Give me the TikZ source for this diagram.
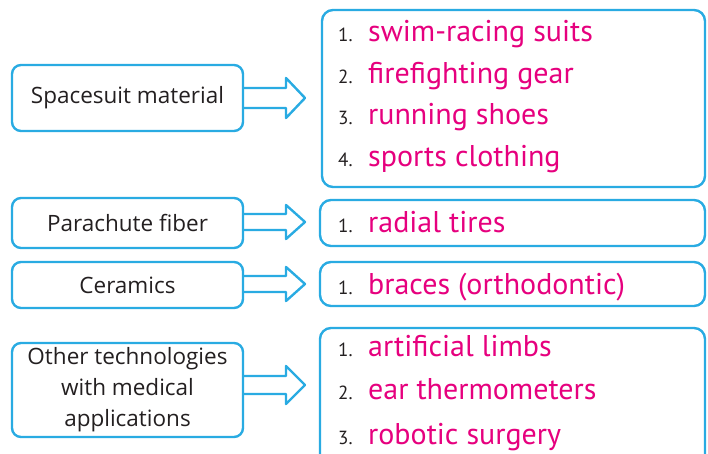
\documentclass[tikz,border=0pt]{standalone}
\usepackage{fontspec}
\setmainfont{PT Sans}
\newfontfamily\labelfont{Open Sans}
\usetikzlibrary{calc}
\definecolor{framecyan}{RGB}{41,171,226}
\definecolor{itempink}{RGB}{230,0,126}
\definecolor{inkgray}{RGB}{35,31,32}
\tikzset{
  srcbox/.style={draw=framecyan, line width=2.4pt, rounded corners=9pt,
    minimum width=231pt, inner sep=0pt, align=center,
    font=\labelfont\fontsize{22.5}{31}\selectfont, text=inkgray},
  listbox/.style={draw=framecyan, line width=2.4pt, rounded corners=11pt},
  num/.style={anchor=base west, inner sep=0pt, text=inkgray,
    font=\fontsize{19}{19}\selectfont},
  item/.style={anchor=base west, inner sep=0pt, text=itempink,
    font=\fontsize{30}{30}\selectfont},
  blockarrow/.style={draw=framecyan, line width=2.4pt, line join=round}
}
\begin{document}
\begin{tikzpicture}[x=1pt,y=-1pt]
\useasboundingbox (0,0) rectangle (708,454);
\clip (0,0) rectangle (708,454);

% source boxes
\node[srcbox, minimum height=66pt] (sp) at (127.5,98) {Spacesuit material};
\node[srcbox, minimum height=50pt] (pf) at (127.5,223) {Parachute fiber};
\node[srcbox, minimum height=46pt] (ce) at (127.5,285) {Ceramics};
\node[srcbox, minimum height=94pt] (ot) at (127.5,390)
  {Other technologies\\with medical\\applications};

% list boxes
\draw[listbox] (322,10) rectangle (705,187);
\draw[listbox] (320,200) rectangle (705,246);
\draw[listbox] (320,262) rectangle (705,306);
\draw[listbox] (320,328) rectangle (705,480);

% block arrows from each source box to its list
\draw[blockarrow] ($(sp.east)+(0,-10)$) -- (286,88) -- (286,78) -- (305,98)
  -- (286,118) -- (286,108) -- ($(sp.east)+(0,10)$);
\draw[blockarrow] ($(pf.east)+(0,-9)$) -- (286,214) -- (286,205) -- (305,222)
  -- (286,239) -- (286,230) -- ($(pf.east)+(0,7)$);
\draw[blockarrow] ($(ce.east)+(0,-9)$) -- (286,276) -- (286,267) -- (305,284)
  -- (286,301) -- (286,292) -- ($(ce.east)+(0,7)$);
\draw[blockarrow] ($(ot.east)+(0,-14)$) -- (286,376) -- (286,366) -- (305,385)
  -- (286,404) -- (286,394) -- ($(ot.east)+(0,4)$);

% list items
\node[num] (n11) at (338,42) {1.};
\node[item] (i11) at (368,42) {swim-racing suits};
\node[num] (n12) at (338,84) {2.};
\node[item] (i12) at (368,84) {firefighting gear};
\node[num] (n13) at (338,125) {3.};
\node[item] (i13) at (368,125) {running shoes};
\node[num] (n14) at (338,167) {4.};
\node[item] (i14) at (368,167) {sports clothing};

\node[num] (n21) at (338,232) {1.};
\node[item] (i21) at (368,232) {radial tires};

\node[num] (n31) at (338,294) {1.};
\node[item] (i31) at (368,294) {braces (orthodontic)};

\node[num] (n41) at (338,356) {1.};
\node[item] (i41) at (368,356) {artificial limbs};
\node[num] (n42) at (338,399) {2.};
\node[item] (i42) at (368,399) {ear thermometers};
\node[num] (n43) at (338,444) {3.};
\node[item] (i43) at (368,444) {robotic surgery};
\end{tikzpicture}
\end{document}
